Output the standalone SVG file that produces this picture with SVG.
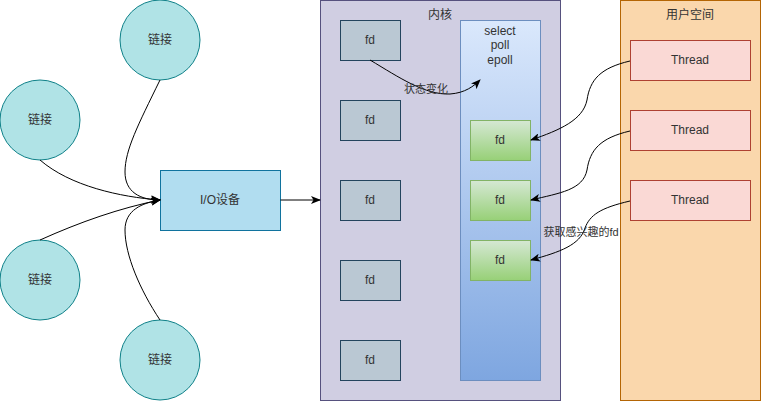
<svg xmlns="http://www.w3.org/2000/svg" width="761" height="402" viewBox="0 0 761 402">
<style>
text{font-family:"Liberation Sans","Noto Sans CJK SC",sans-serif;font-size:12px;fill:#333;text-anchor:middle;dominant-baseline:central}
text.lbl{font-size:11px}
.circ{fill:#b0e3e6;stroke:#0e8088;stroke-width:1}
.fd{fill:#bac8d3;stroke:#23445d}
.gfd{fill:url(#gg);stroke:#82b366}
.th{fill:#fad9d5;stroke:#ae4132}
.e{fill:none;stroke:#000;stroke-width:1;marker-end:url(#ar)}
</style>
<defs>
<marker id="ar" viewBox="0 0 10 8" refX="9" refY="4" markerWidth="10" markerHeight="8" markerUnits="userSpaceOnUse" orient="auto">
<path d="M0,0 L10,4 L0,8 L2.5,4 z" fill="#000"/>
</marker>
<linearGradient id="bg" x1="0" y1="0" x2="0" y2="1"><stop offset="0" stop-color="#dae8fc"/><stop offset="1" stop-color="#7ea6e0"/></linearGradient>
<linearGradient id="gg" x1="0" y1="0" x2="0" y2="1"><stop offset="0" stop-color="#d5e8d4"/><stop offset="1" stop-color="#97d077"/></linearGradient>
</defs>
<g id="kernel"><rect x="320.5" y="0.5" width="240" height="400" fill="#d0cee2" stroke="#56517e"/><text x="440" y="15">内核</text></g>
<g id="userspace"><rect x="620.5" y="0.5" width="140" height="400" fill="#fad7ac" stroke="#b46504"/><text x="690" y="15">用户空间</text></g>
<g id="c1"><circle class="circ" cx="160" cy="40" r="40"/><text x="160" y="40">链接</text></g>
<g id="c2"><circle class="circ" cx="40" cy="120" r="40"/><text x="40" y="120">链接</text></g>
<g id="c3"><circle class="circ" cx="40" cy="280" r="40"/><text x="40" y="280">链接</text></g>
<g id="c4"><circle class="circ" cx="160" cy="360" r="40"/><text x="160" y="360">链接</text></g>
<g id="io"><rect x="160.5" y="170.5" width="120" height="60" fill="#b1ddf0" stroke="#10739e"/><text x="220" y="200">I/O设备</text></g>
<g id="fd1"><rect class="fd" x="340.5" y="20.5" width="60" height="40"/><text x="370" y="40">fd</text></g>
<g id="fd2"><rect class="fd" x="340.5" y="100.5" width="60" height="40"/><text x="370" y="120">fd</text></g>
<g id="fd3"><rect class="fd" x="340.5" y="180.5" width="60" height="40"/><text x="370" y="200">fd</text></g>
<g id="fd4"><rect class="fd" x="340.5" y="260.5" width="60" height="40"/><text x="370" y="280">fd</text></g>
<g id="fd5"><rect class="fd" x="340.5" y="340.5" width="60" height="40"/><text x="370" y="360">fd</text></g>
<g id="selector"><rect x="460.5" y="20.5" width="80" height="360" fill="url(#bg)" stroke="#6c8ebf"/><text x="500" y="31">select</text><text x="500" y="45">poll</text><text x="500" y="60">epoll</text></g>
<g id="gfd1"><rect class="gfd" x="470.5" y="120.5" width="60" height="40"/><text x="500" y="140">fd</text></g>
<g id="gfd2"><rect class="gfd" x="470.5" y="180.5" width="60" height="40"/><text x="500" y="200">fd</text></g>
<g id="gfd3"><rect class="gfd" x="470.5" y="240.5" width="60" height="40"/><text x="500" y="260">fd</text></g>
<g id="t1"><rect class="th" x="630.5" y="40.5" width="120" height="40"/><text x="690" y="60">Thread</text></g>
<g id="t2"><rect class="th" x="630.5" y="110.5" width="120" height="40"/><text x="690" y="130">Thread</text></g>
<g id="t3"><rect class="th" x="630.5" y="180.5" width="120" height="40"/><text x="690" y="200">Thread</text></g>
<g id="connectors">
<path class="e" d="M160,80 C138,125 125,150 125,172 C125,192 140,200 160,200"/>
<path class="e" d="M40,160 C70,186 120,197 160,200"/>
<path class="e" d="M40,240 C80,222 120,208 160,200"/>
<path class="e" d="M160,320 C140,290 125,255 125,230 C125,210 142,203 160,200"/>
<path class="e" d="M280.5,200 L320,200"/>
<path class="e" d="M370,60 C400,78 425,95 450,94 C465,93 474,86 480,80"/>
<path class="e" d="M630,61 C600,68 590,80 587,100 C583,120 560,130 531,140"/>
<path class="e" d="M630,131 C600,138 590,150 587,170 C583,190 560,193 531,200"/>
<path class="e" d="M630,201 C600,208 590,215 585,228 C580,245 560,252 531,260"/>
<text class="lbl" x="426" y="89">状态变化</text>
<text class="lbl" x="581" y="232">获取感兴趣的fd</text>
</g>
</svg>
